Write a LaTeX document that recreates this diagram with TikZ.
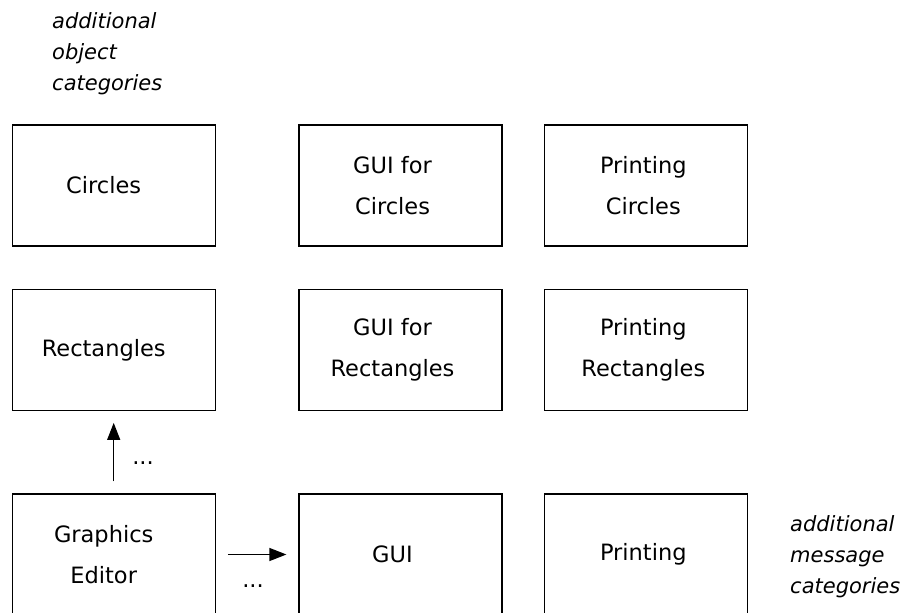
\documentclass[tikz,border=0pt]{standalone}
\usepackage{fontspec}
\setmainfont{DejaVu Sans}
\usetikzlibrary{arrows.meta}
\newcommand\lineA[1]{#1\hspace*{20pt}}
\newcommand\lineB[1]{#1\hspace*{16pt}}
\newcommand\lineC[1]{#1\hspace*{6pt}}
\tikzset{
  box/.style={draw, line width=1.2pt, minimum width=203pt, minimum height=121pt,
    align=center, inner sep=0pt, font=\fontsize{22.5}{41}\selectfont},
  lbl/.style={align=left, inner sep=0pt, font=\fontsize{21}{31}\selectfont\itshape},
  dotslbl/.style={inner sep=0pt, font=\fontsize{22.5}{24}\selectfont},
  arr/.style={line width=1.2pt, -{Triangle[length=17pt,width=13pt]}, shorten <=12pt, shorten >=12pt}
}
\begin{document}
\begin{tikzpicture}[x=1pt,y=-1pt]
\clip (0,0) rectangle (906,613);
\node[lbl, anchor=north west] (objcat) at (52,12) {additional\\object\\categories};
\node[lbl, anchor=north west] (msgcat) at (790,515) {additional\\message\\categories};

\node[box] (circ) at (113.7,185.5) {\lineA{Circles}};
\node[box] (guicirc) at (400.5,185.5) {\lineB{GUI for}\\\lineB{Circles}};
\node[box] (prcirc) at (646.3,185.5) {\lineC{Printing}\\\lineC{Circles}};

\node[box] (rect) at (113.7,349.8) {\lineA{Rectangles}};
\node[box] (guirect) at (400.5,349.8) {\lineB{GUI for}\\\lineB{Rectangles}};
\node[box] (prrect) at (646.3,349.8) {\lineC{Printing}\\\lineC{Rectangles}};

\node[box] (ge) at (113.7,554.5) {\lineA{Graphics}\\\lineA{Editor}};
\node[box] (gui) at (400.5,554.5) {\lineB{GUI}};
\node[box] (pr) at (646.3,554.5) {\lineC{Printing}};

\draw[arr] (ge.north) -- (rect.south);
\draw[arr] (ge.east) -- (gui.west);
\node[dotslbl] (d1) at (143,463) {...};
\node[dotslbl] (d2) at (253,586) {...};
\end{tikzpicture}
\end{document}
